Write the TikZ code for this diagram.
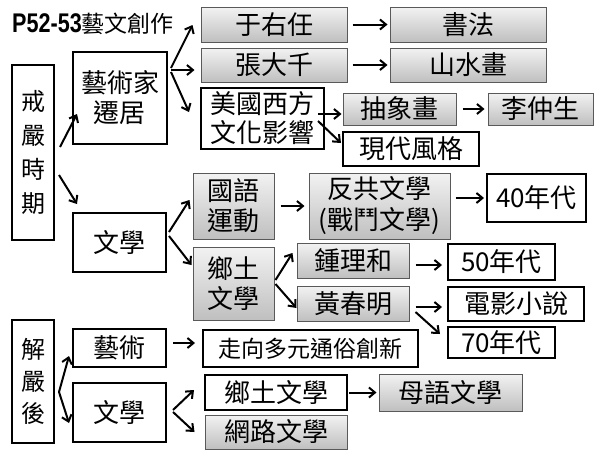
\documentclass[tikz,border=0pt]{standalone}
\usepackage{fontspec}
\setmainfont{Noto Sans CJK TC}
\newfontfamily\titlefont[FakeStretch=0.8]{Liberation Sans}
\usetikzlibrary{arrows.meta}
\newcommand\mybox[7]{\node[#6, minimum width={(#4-#2)*1pt}, minimum height={(#5-#3)*1pt}] (#1) at ({(#2+#4)/2},{(#3+#5)/2}) {#7};}
\tikzset{
  basebox/.style={inner sep=0pt, align=center, text=black, font=\fontsize{26}{30}\selectfont},
  wbox/.style={basebox, draw=black, line width=2pt, fill=white},
  gbox/.style={basebox, draw=black!65, line width=1pt, top color=black!5, bottom color=black!25},
  vtext/.style={font=\fontsize{24}{34}\selectfont},
  arr/.style={line width=2pt, -{Straight Barb[length=6pt,width=10pt]}}
}
\begin{document}
\begin{tikzpicture}[x=1pt,y=-1pt]
\useasboundingbox (0,0) rectangle (600,450);
\node[anchor=base west, inner sep=0pt] (title) at (12,32) {{\titlefont\bfseries\fontsize{27}{27}\selectfont P52-53}{\fontsize{23}{23}\selectfont 藝文創作}};
% left column
\mybox{jy}{12}{65}{54}{240}{wbox,vtext}{戒\\嚴\\時\\期}
\mybox{yjj}{73}{52}{167}{144}{wbox}{藝術家\\遷居}
\mybox{wx1}{73}{213}{166}{272}{wbox}{文學}
\mybox{jyh}{12}{320}{54}{443}{wbox,font=\fontsize{24}{32}\selectfont}{解\\嚴\\後}
\mybox{ys}{73}{329}{166}{367}{wbox}{藝術}
\mybox{wx2}{73}{383}{166}{442}{wbox}{文學}
% artists
\mybox{yyr}{201}{7}{347}{42}{gbox}{于右任}
\mybox{zdq}{201}{48}{347}{82}{gbox}{張大千}
\mybox{mg}{201}{88}{324}{149}{wbox,font=\fontsize{26}{29}\selectfont}{美國西方\\文化影響}
\mybox{sf}{390}{7}{546}{42}{gbox}{書法}
\mybox{ssh}{390}{48}{546}{82}{gbox}{山水畫}
\mybox{cxh}{343}{93}{456}{125}{gbox}{抽象畫}
\mybox{lzs}{488}{93}{593}{125}{gbox}{李仲生}
\mybox{xdfg}{343}{132}{479}{166}{wbox}{現代風格}
% literature
\mybox{gyyd}{193}{173}{274}{239}{gbox}{國語\\運動}
\mybox{fg}{309}{173}{450}{239}{gbox,font=\fontsize{26}{31}\selectfont}{反共文學\\(戰鬥文學)}
\mybox{s40}{487}{174}{586}{222}{wbox}{40年代}
\mybox{xtwx}{193}{247}{274}{320}{gbox}{鄉土\\文學}
\mybox{zlh}{297}{243}{409}{278}{gbox}{鍾理和}
\mybox{hcm}{297}{286}{409}{321}{gbox}{黃春明}
\mybox{s50}{448}{244}{555}{280}{wbox}{50年代}
\mybox{dyxs}{448}{287}{584}{321}{wbox}{電影小說}
\mybox{s70}{448}{327}{555}{358}{wbox}{70年代}
% after martial law
\mybox{zx}{203}{330}{418}{367}{wbox,font=\fontsize{23}{23}\selectfont}{走向多元通俗創新}
\mybox{xt2}{205}{375}{347}{410}{wbox}{鄉土文學}
\mybox{wl}{205}{415}{347}{449}{gbox}{網路文學}
\mybox{my}{379}{374}{522}{411}{gbox}{母語文學}
% arrows
\draw[arr] ([shift={(5,-5.5)}]jy.east) -- ([shift={(5,16)}]yjj.west);
\draw[arr] ([shift={(4,22.5)}]jy.east) -- ([shift={(5,-8)}]wx1.north west);
\draw[arr] ([shift={(3,-30)}]yjj.east) -- ([shift={(-8,0.5)}]yyr.west);
\draw[arr] ([shift={(3,-28)}]yjj.east) -- ([shift={(-6,5)}]zdq.west);
\draw[arr] ([shift={(3,-26)}]yjj.east) -- ([shift={(-11,-6.5)}]mg.west);
\draw[arr] ([shift={(5,0)}]yyr.east) -- ([shift={(-2,0)}]sf.west);
\draw[arr] ([shift={(5,0)}]zdq.east) -- ([shift={(-2,0)}]ssh.west);
\draw[arr] ([shift={(-7,-4.5)}]mg.east) -- ([shift={(-1,5)}]cxh.west);
\draw[arr] ([shift={(-7,2.5)}]mg.east) -- ([shift={(-1,-6)}]xdfg.west);
\draw[arr] ([shift={(6,0)}]cxh.east) -- ([shift={(-3,0)}]lzs.west);
\draw[arr] ([shift={(2,-10.5)}]wx1.east) -- ([shift={(-3,-6)}]gyyd.west);
\draw[arr] ([shift={(2,-6.5)}]wx1.east) -- ([shift={(-1,-18.5)}]xtwx.west);
\draw[arr] ([shift={(6,0)}]gyyd.east) -- ([shift={(-4,0)}]fg.west);
\draw[arr] ([shift={(5,-8)}]fg.east) -- ([shift={(-2,0)}]s40.west);
\draw[arr] ([shift={(1,-3.5)}]xtwx.east) -- ([shift={(-4,-7.5)}]zlh.west);
\draw[arr] ([shift={(1,0.5)}]xtwx.east) -- ([shift={(0,4.5)}]hcm.west);
\draw[arr] ([shift={(6,4.5)}]zlh.east) -- ([shift={(-5,3)}]s50.west);
\draw[arr] ([shift={(6,3.5)}]hcm.east) -- ([shift={(-5,3)}]dyxs.west);
\draw[arr] ([shift={(6,8.5)}]hcm.east) -- ([shift={(-7,-8.5)}]s70.west);
\coordinate (jyhp) at ([shift={(4,10.5)}]jyh.east);
\draw[arr] (jyhp) -- ([shift={(-3,8)}]ys.west);
\draw[arr] (jyhp) -- ([shift={(-3,10.5)}]wx2.west);
\draw[arr] ([shift={(6,-5)}]ys.east) -- ([shift={(-7,-5.5)}]zx.west);
\draw[arr] ([shift={(6,-2.5)}]wx2.east) -- ([shift={(-10,-2.5)}]xt2.west);
\draw[arr] ([shift={(6,-0.5)}]wx2.east) -- ([shift={(-10,0)}]wl.west);
\draw[arr] ([shift={(1,0)}]xt2.east) -- ([shift={(-2,0)}]my.west);
\end{tikzpicture}
\end{document}
